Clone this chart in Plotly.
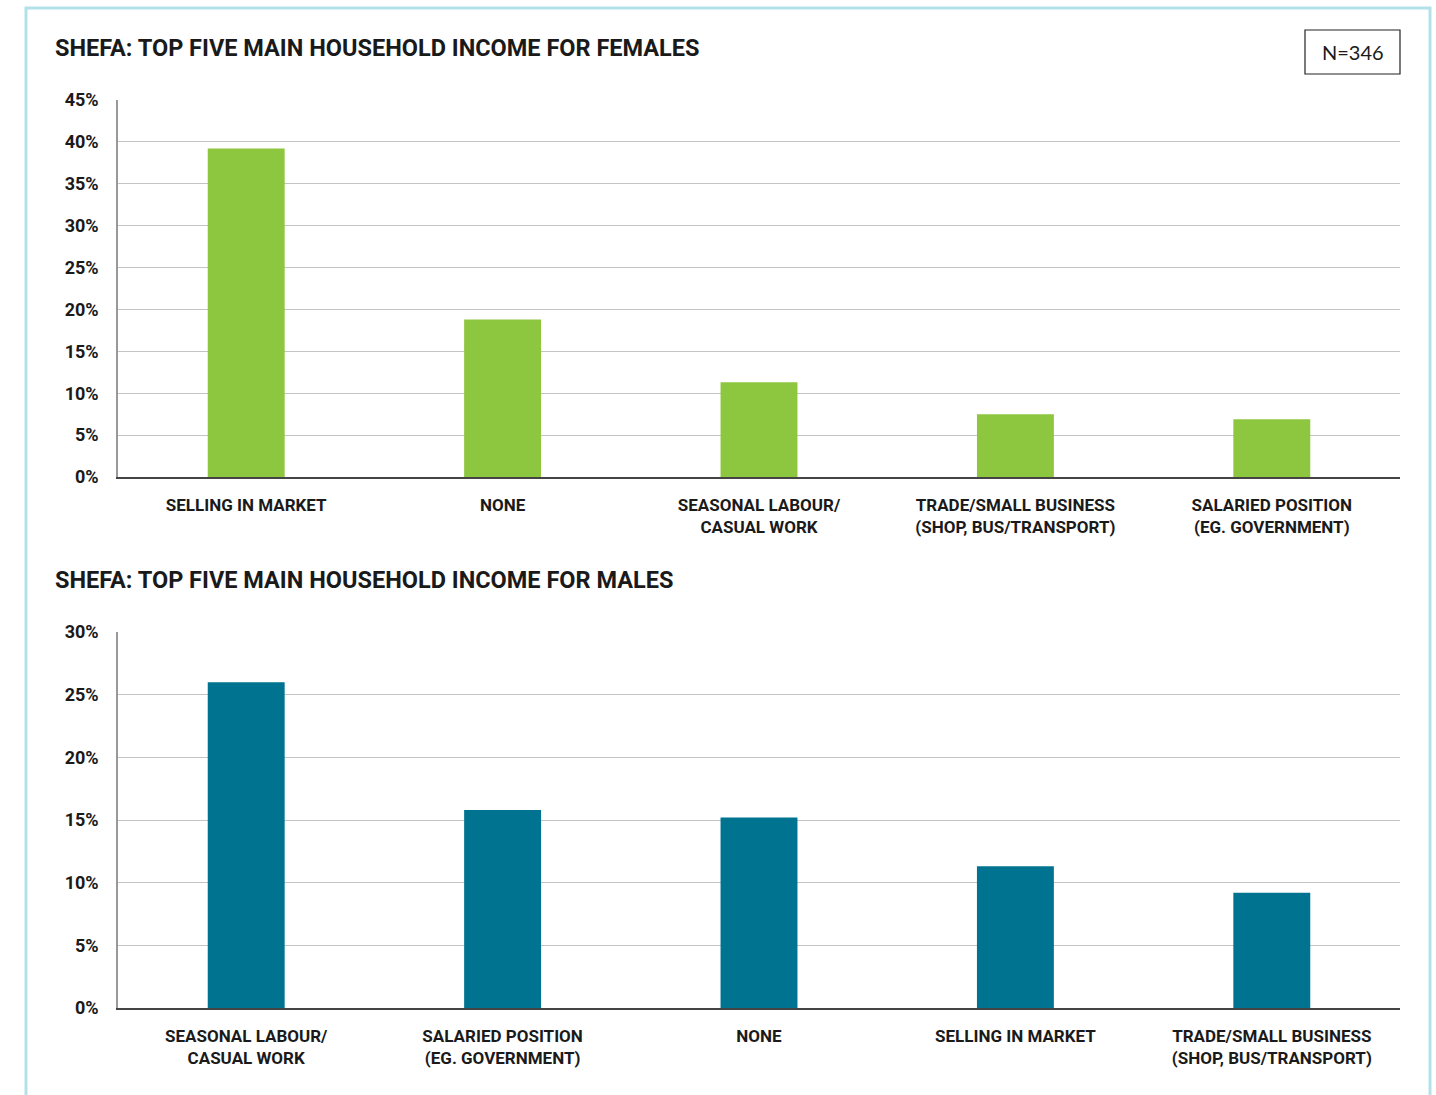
import plotly.graph_objects as go

# Data
female_categories = ["SELLING IN MARKET", "NONE", "SEASONAL LABOUR/<br>CASUAL WORK",
                     "TRADE/SMALL BUSINESS<br>(SHOP, BUS/TRANSPORT)", "SALARIED POSITION<br>(EG. GOVERNMENT)"]
female_values = [39.2, 18.8, 11.3, 7.5, 6.9]
male_categories = ["SEASONAL LABOUR/<br>CASUAL WORK", "SALARIED POSITION<br>(EG. GOVERNMENT)", "NONE",
                   "SELLING IN MARKET", "TRADE/SMALL BUSINESS<br>(SHOP, BUS/TRANSPORT)"]
male_values = [26.0, 15.8, 15.2, 11.3, 9.2]
female_ticks = [0, 5, 10, 15, 20, 25, 30, 35, 40, 45]
female_ticktext = ["0%", "5%", "10%", "15%", "20%", "25%", "30%", "35%", "40%", "45%"]
male_ticks = [0, 5, 10, 15, 20, 25, 30]
male_ticktext = ["0%", "5%", "10%", "15%", "20%", "25%", "30%"]
title_female = "SHEFA: TOP FIVE MAIN HOUSEHOLD INCOME FOR FEMALES"
title_male = "SHEFA: TOP FIVE MAIN HOUSEHOLD INCOME FOR MALES"
n_label = "N=346"

W, H = 1436, 1095
COND = "Roboto, DejaVu Sans Condensed, sans-serif"

def px(x):
    return x / W

def py(y):
    return 1 - y / H

fig = go.Figure()
fig.add_trace(go.Bar(x=female_categories, y=female_values, marker_color="#8DC63F",
                     marker_line_width=0, xaxis="x", yaxis="y", showlegend=False))
fig.add_trace(go.Bar(x=male_categories, y=male_values, marker_color="#007391",
                     marker_line_width=0, xaxis="x2", yaxis="y2", showlegend=False))

xfont = dict(family=COND, size=17, color="#1a1a1a", weight="bold")
yfont = dict(family=COND, size=18, color="#1a1a1a", weight="bold")
common_x = dict(showgrid=False, showline=True, linecolor="#444", linewidth=1.5,
                tickfont=xfont, ticks="", ticklabelstandoff=12, fixedrange=True, automargin=False)
common_y = dict(showgrid=True, gridcolor="#c4c4c4", gridwidth=1.2, showline=True,
                linecolor="#999", linewidth=1.5, zeroline=False,
                tickfont=yfont, ticks="", ticklabelstandoff=14, fixedrange=True, automargin=False)

fig.update_layout(
    width=W, height=H, margin=dict(l=0, r=0, t=0, b=0), autosize=False,
    paper_bgcolor="white", plot_bgcolor="white", bargap=0.70,
    xaxis=dict(domain=[px(118), px(1400)], anchor="y", **common_x),
    yaxis=dict(domain=[py(477), py(100)], range=[0, 45], tickvals=female_ticks,
               ticktext=female_ticktext, **common_y),
    xaxis2=dict(domain=[px(118), px(1400)], anchor="y2", **common_x),
    yaxis2=dict(domain=[py(1008), py(632)], range=[0, 30], tickvals=male_ticks,
                ticktext=male_ticktext, **common_y),
    annotations=[
        dict(text=title_female, x=px(53), y=py(48), xref="paper", yref="paper",
             xanchor="left", yanchor="middle", showarrow=False,
             font=dict(family=COND, size=23.5, color="#1a1a1a", weight="bold")),
        dict(text=title_male, x=px(53), y=py(580), xref="paper", yref="paper",
             xanchor="left", yanchor="middle", showarrow=False,
             font=dict(family=COND, size=23.5, color="#1a1a1a", weight="bold")),
        dict(text=n_label, x=px(1353), y=py(52), xref="paper", yref="paper",
             xanchor="center", yanchor="middle", showarrow=False,
             font=dict(family="Lato, Open Sans, sans-serif", size=20, color="#1a1a1a")),
    ],
    shapes=[
        dict(type="rect", xref="paper", yref="paper", x0=px(26), x1=px(1430), y0=py(1120), y1=py(8),
             line=dict(color="#b3e1e9", width=3)),
        dict(type="rect", xref="paper", yref="paper", x0=px(1305), x1=px(1400), y0=py(74), y1=py(30),
             line=dict(color="#222", width=1.2)),
    ],
)

fig.write_html("out.html", config={"displayModeBar": False},
               post_script="document.body.style.margin='0';")
